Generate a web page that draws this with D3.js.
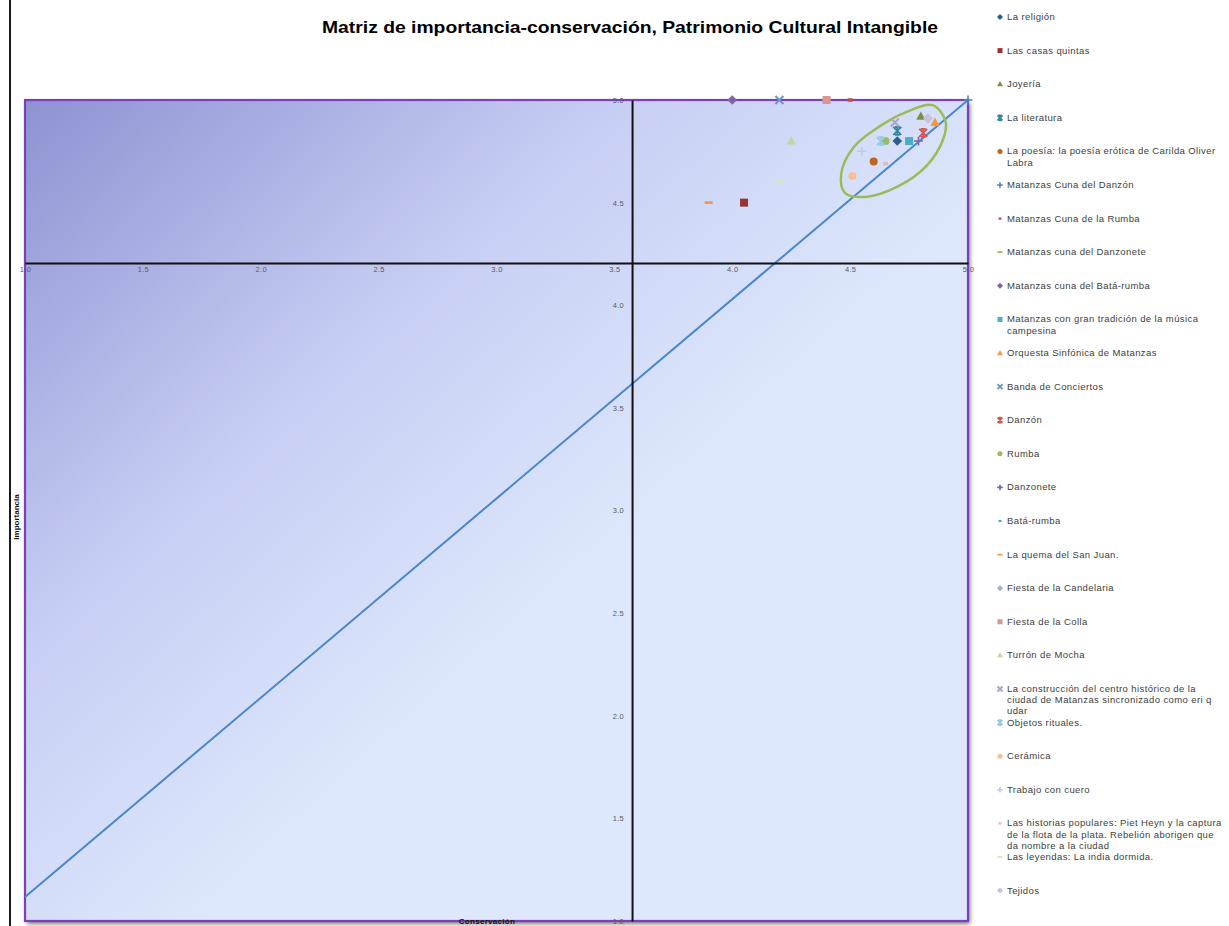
<!DOCTYPE html>
<html>
<head>
<meta charset="utf-8">
<script src="https://cdn.jsdelivr.net/npm/d3@7"></script>
<style>
  html, body { margin: 0; padding: 0; background: #ffffff; }
  svg { display: block; font-family: "Liberation Sans", Arial, sans-serif; }
</style>
</head>
<body>
<svg id="chart" width="1229" height="926"></svg>
<script>
// Elementos del patrimonio intangible evaluados (conservación, importancia)
const names = [
  "La religión",
  "Las casas quintas",
  "Joyería",
  "La literatura",
  "La poesía: la poesía erótica de Carilda Oliver Labra",
  "Matanzas Cuna del Danzón",
  "Matanzas Cuna de la Rumba",
  "Matanzas cuna del Danzonete",
  "Matanzas cuna del Batá-rumba",
  "Matanzas con gran tradición de la música campesina",
  "Orquesta Sinfónica de Matanzas",
  "Banda de Conciertos",
  "Danzón",
  "Rumba",
  "Danzonete",
  "Batá-rumba",
  "La quema del San Juan.",
  "Fiesta de la Candelaria",
  "Fiesta de la Colla",
  "Turrón de Mocha",
  "La construcción del centro histórico de la ciudad de Matanzas sincronizado como eri q udar",
  "Objetos rituales.",
  "Cerámica",
  "Trabajo con cuero",
  "Las historias populares: Piet Heyn y la captura de la flota de la plata. Rebelión aborigen que da nombre a la ciudad",
  "Las leyendas: La india dormida.",
  "Tejidos"
];
const conservacion = [4.70, 4.05, 4.80, 4.70, 4.60, 5.00, 4.50, 4.40, 4.00, 4.75, 4.86, 4.20, 4.81, 4.65,
                      4.79, 4.75, 3.90, 4.83, 4.40, 4.25, 4.69, 4.63, 4.51, 4.55, 4.65, 4.20, 4.83];
const importancia  = [4.80, 4.50, 4.92, 4.85, 4.70, 5.00, 5.00, 5.00, 5.00, 4.80, 4.89, 5.00, 4.84, 4.80,
                      4.80, 4.80, 4.50, 4.91, 5.00, 4.80, 4.89, 4.80, 4.63, 4.75, 4.69, 4.60, 4.91];
const markers = ["diamond", "square", "triangle", "asterisk", "circle", "plus", "smalldash", "dash",
                 "diamond", "square", "triangle", "x", "asterisk", "circle", "plus", "smalldash", "dash",
                 "diamond", "square", "triangle", "x", "asterisk", "circle", "plus", "smalldash", "dash", "diamond"];
const colors = ["#2f5d91", "#973532", "#76923c", "#31859c", "#c0661c", "#4f81bd", "#c0504d", "#9bbb59",
                "#8064a2", "#4bacc6", "#f79646", "#6f97cc", "#d9534f", "#9bbb59", "#8064a2", "#4bacc6",
                "#f79646", "#95b3d7", "#da9694", "#c3d69b", "#b2a2c7", "#93cddd", "#fabf8f", "#b9cde5",
                "#e6b9b8", "#d7e4bd", "#ccc1da"];

// Línea de referencia y contorno del grupo destacado
const refLineX = [1.0, 5.0];
const refLineY = [1.117, 5.0];
const grupoX = [4.850, 4.905, 4.895, 4.825, 4.705, 4.565, 4.478, 4.462, 4.515, 4.620, 4.740];
const grupoY = [4.975, 4.895, 4.810, 4.680, 4.580, 4.528, 4.548, 4.640, 4.770, 4.868, 4.942];

// Ejes
const xTicks = [1.0, 1.5, 2.0, 2.5, 3.0, 3.5, 4.0, 4.5, 5.0];
const yTicks = [1.0, 1.5, 2.0, 2.5, 3.0, 3.5, 4.0, 4.5, 5.0];
const xCross = 4.206;   // valor de importancia donde se cruza el eje horizontal
const yCross = 3.575;   // valor de conservación donde se cruza el eje vertical

const svg = d3.select("#chart");
const plot = { left: 25, top: 100, right: 968, bottom: 921 };

const x = d3.scaleLinear().domain([1, 5]).range([plot.left, plot.right]);
const y = d3.scaleLinear().domain([1, 5]).range([plot.bottom, plot.top]);

const defs = svg.append("defs");
const grad = defs.append("linearGradient")
  .attr("id", "fondo")
  .attr("gradientUnits", "userSpaceOnUse")
  .attr("x1", plot.left).attr("y1", plot.top)
  .attr("x2", 520).attr("y2", 640);
grad.append("stop").attr("offset", "0%").attr("stop-color", "#8e92d2");
grad.append("stop").attr("offset", "55%").attr("stop-color", "#c7cef4");
grad.append("stop").attr("offset", "100%").attr("stop-color", "#dde8fc");

const shadow = defs.append("filter").attr("id", "sombra")
  .attr("x", "-5%").attr("y", "-5%").attr("width", "110%").attr("height", "110%");
shadow.append("feGaussianBlur").attr("stdDeviation", 2);

// Línea del borde izquierdo
svg.append("line")
  .attr("x1", 10).attr("x2", 10).attr("y1", 0).attr("y2", 926)
  .attr("stroke", "#1a1a1a").attr("stroke-width", 2);

// Título
svg.append("text")
  .attr("x", 630).attr("y", 33)
  .attr("text-anchor", "middle")
  .attr("font-size", 16.5).attr("font-weight", "bold").attr("fill", "#000")
  .attr("textLength", 616).attr("lengthAdjust", "spacingAndGlyphs")
  .text("Matriz de importancia-conservación, Patrimonio Cultural Intangible");

// Área de trazado
svg.append("rect")
  .attr("x", plot.left + 2).attr("y", plot.top + 3)
  .attr("width", plot.right - plot.left).attr("height", plot.bottom - plot.top)
  .attr("fill", "#7a7a7a").attr("filter", "url(#sombra)");
svg.append("rect")
  .attr("x", plot.left).attr("y", plot.top)
  .attr("width", plot.right - plot.left).attr("height", plot.bottom - plot.top)
  .attr("fill", "url(#fondo)")
  .attr("stroke", "#7d3fb8").attr("stroke-width", 2.2);

// Línea de referencia diagonal
svg.append("line")
  .attr("x1", x(refLineX[0])).attr("y1", y(refLineY[0]))
  .attr("x2", x(refLineX[1])).attr("y2", y(refLineY[1]))
  .attr("stroke", "#4a86c8").attr("stroke-width", 2);

// Eje horizontal (conservación)
const xAxis = d3.axisBottom(x).tickValues(xTicks).tickFormat(d3.format(".1f")).tickSize(0).tickPadding(4);
const gx = svg.append("g").attr("transform", `translate(0,${y(xCross)})`).call(xAxis);
gx.select(".domain").attr("stroke", "#111").attr("stroke-width", 2);
gx.selectAll("text").attr("font-size", 7.5).attr("fill", "#5a5a5a").attr("letter-spacing", 0.3)
  .attr("font-family", "Liberation Sans, Arial, sans-serif");

// Eje vertical (importancia)
const yAxis = d3.axisLeft(y).tickValues(yTicks).tickFormat(d3.format(".1f")).tickSize(0).tickPadding(8);
const gy = svg.append("g").attr("transform", `translate(${x(yCross)},0)`).call(yAxis);
gy.select(".domain").attr("stroke", "#111").attr("stroke-width", 2);
gy.selectAll("text").attr("font-size", 7.5).attr("fill", "#5a5a5a").attr("letter-spacing", 0.3)
  .attr("font-family", "Liberation Sans, Arial, sans-serif");

// Títulos de los ejes
svg.append("text")
  .attr("transform", `translate(19,517) rotate(-90)`)
  .attr("text-anchor", "middle").attr("font-size", 8).attr("font-weight", "bold").attr("fill", "#111")
  .text("Importancia");
svg.append("text")
  .attr("x", 487).attr("y", plot.bottom + 3)
  .attr("text-anchor", "middle").attr("font-size", 8).attr("font-weight", "bold").attr("fill", "#111")
  .attr("letter-spacing", 0.3)
  .text("Conservación");

// Formas de los marcadores
function markerPath(kind, s) {
  const h = s / 2;
  switch (kind) {
    case "diamond": return `M0,${-h * 1.2}L${h * 1.2},0L0,${h * 1.2}L${-h * 1.2},0Z`;
    case "square": return `M${-h},${-h}H${h}V${h}H${-h}Z`;
    case "triangle": return `M0,${-h * 1.25}L${h * 1.15},${h * 0.85}L${-h * 1.15},${h * 0.85}Z`;
    case "circle": return d3.symbol(d3.symbolCircle, s * s * 0.8)();
    case "smalldash": return `M${-h * 0.6},${-h * 0.45}H${h * 0.6}V${h * 0.45}H${-h * 0.6}Z`;
    case "dash": return `M${-h},${-h * 0.35}H${h}V${h * 0.35}H${-h}Z`;
    default: return null;
  }
}
function drawMarker(g, kind, color, s) {
  const h = s / 2;
  const p = markerPath(kind, s);
  if (p) {
    g.append("path").attr("d", p).attr("fill", color);
  } else if (kind === "plus") {
    g.append("path").attr("d", `M${-h * 1.1},0H${h * 1.1}M0,${-h * 1.1}V${h * 1.1}`)
      .attr("stroke", color).attr("stroke-width", 1.6).attr("fill", "none");
  } else if (kind === "x") {
    g.append("path").attr("d", `M${-h},${-h}L${h},${h}M${h},${-h}L${-h},${h}`)
      .attr("stroke", color).attr("stroke-width", 2).attr("fill", "none");
  } else if (kind === "asterisk") {
    g.append("path").attr("d", `M${-h},${-h}L${h},${h}M${h},${-h}L${-h},${h}M0,${-h * 1.2}V${h * 1.2}M${-h * 0.6},${-h}H${h * 0.6}M${-h * 0.6},${h}H${h * 0.6}`)
      .attr("stroke", color).attr("stroke-width", 1.7).attr("fill", "none");
  }
}

// Contorno del grupo destacado
const grupo = grupoX.map((v, i) => [x(v), y(grupoY[i])]);
svg.append("path")
  .attr("d", d3.line().curve(d3.curveCatmullRomClosed.alpha(0.5))(grupo))
  .attr("fill", "none").attr("stroke", "#9bbb59").attr("stroke-width", 2.5);

// Puntos de la serie
const puntos = names.map((n, i) => ({ n, cx: conservacion[i], cy: importancia[i], m: markers[i], c: colors[i] }));
const gPts = svg.append("g");
puntos.forEach(d => {
  const g = gPts.append("g").attr("transform", `translate(${x(d.cx)},${y(d.cy)})`);
  drawMarker(g, d.m, d.c, 8);
});

// Leyenda
const legend = svg.append("g").attr("transform", "translate(1000,17)");
const legendStep = 33.6;
const lineGap = 11.2;
const maxWidth = 220;
names.forEach((n, i) => {
  const g = legend.append("g").attr("transform", `translate(0,${i * legendStep})`);
  drawMarker(g, markers[i], colors[i], 5);
  const t = g.append("text").attr("x", 7).attr("y", 3)
    .attr("font-size", 9.5).attr("letter-spacing", 0.4).attr("fill", "#404040");
  // Ajuste de línea según el ancho disponible
  const words = n.split(" ");
  let line = [];
  let tspan = t.append("tspan").attr("x", 7).attr("dy", 0);
  words.forEach(w => {
    line.push(w);
    tspan.text(line.join(" "));
    if (tspan.node().getComputedTextLength() > maxWidth && line.length > 1) {
      line.pop();
      tspan.text(line.join(" "));
      line = [w];
      tspan = t.append("tspan").attr("x", 7).attr("dy", lineGap).text(w);
    }
  });
});
</script>
</body>
</html>
